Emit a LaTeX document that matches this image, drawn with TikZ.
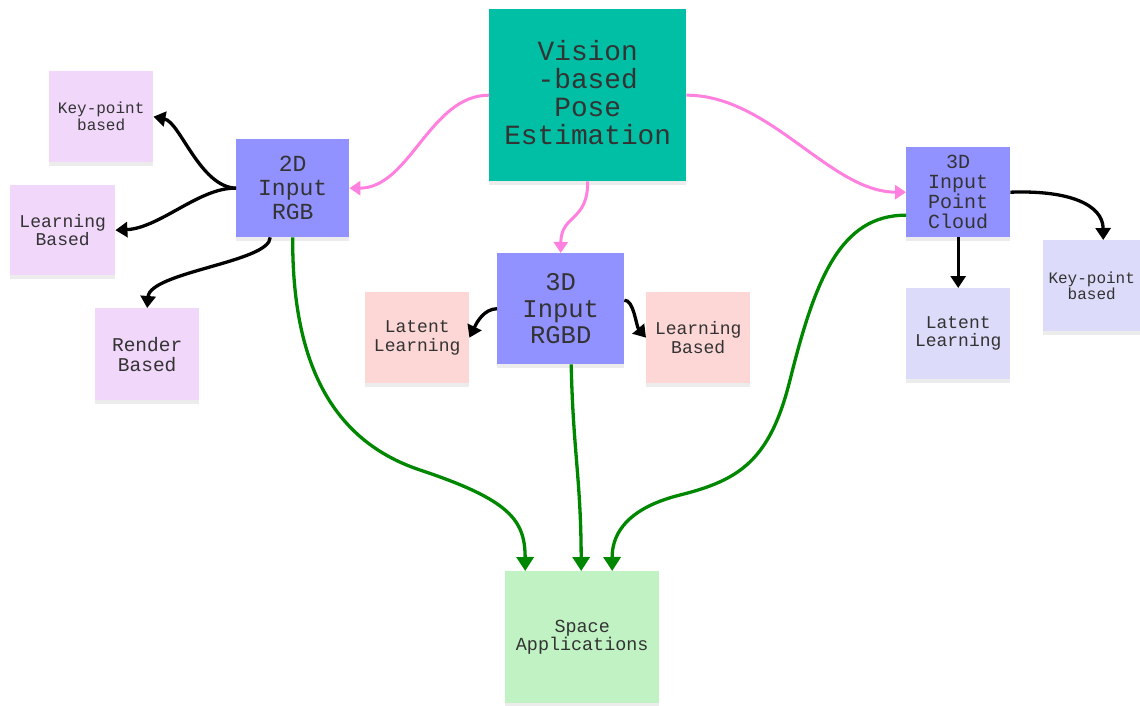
\documentclass[tikz,border=0pt]{standalone}
\usepackage{fontspec}
\setmainfont{Liberation Mono}
\usetikzlibrary{arrows.meta,shadows}
\definecolor{teal1}{RGB}{0,191,165}
\definecolor{blue1}{RGB}{145,145,255}
\definecolor{lilac}{RGB}{241,215,250}
\definecolor{pinkbox}{RGB}{253,214,214}
\definecolor{lav}{RGB}{220,220,250}
\definecolor{greenbox}{RGB}{192,242,196}
\definecolor{pinkline}{RGB}{255,128,222}
\definecolor{greenline}{RGB}{0,135,0}
\definecolor{txt}{RGB}{51,51,51}
\begin{document}
\begin{tikzpicture}[x=1pt,y=-1pt,
  box/.style={anchor=north west, inner sep=0pt, align=center, text=txt,
    drop shadow={shadow xshift=0pt, shadow yshift=-4pt, opacity=0.15}},
  fs/.style 2 args={font=\fontsize{#1}{#2}\selectfont},
  pinkarr/.style={pinkline, line width=3pt, -{Triangle[length=11pt,width=14pt]}},
  blackarr/.style={black, line width=3.3pt, -{Triangle[length=12pt,width=15pt]}},
  greenarr/.style={greenline, line width=3.3pt, -{Triangle[length=14pt,width=17pt]}}]
\useasboundingbox (0,0) rectangle (1140,706);
% nodes
\node[box, fill=teal1, minimum width=197pt, minimum height=172pt, fs={27.8}{28}, text depth=6pt] (V) at (489,9) {Vision\\-based\\Pose\\Estimation};
\node[box, fill=blue1, minimum width=113pt, minimum height=98pt, fs={23}{24}] (R2) at (236,139) {2D\\Input\\RGB};
\node[box, fill=lilac, minimum width=104pt, minimum height=91pt, fs={16}{17}] (K1) at (49,71) {Key-point\\based};
\node[box, fill=lilac, minimum width=105pt, minimum height=90pt, fs={18}{18}] (L1) at (10,185) {Learning\\Based};
\node[box, fill=lilac, minimum width=104pt, minimum height=92pt, fs={19.5}{20}] (RB) at (95,308) {Render\\Based};
\node[box, fill=blue1, minimum width=127pt, minimum height=111pt, fs={25.5}{26.5}] (RGBD) at (497,253) {3D\\Input\\RGBD};
\node[box, fill=pinkbox, minimum width=104pt, minimum height=91pt, fs={18}{19}] (LP) at (365,292) {Latent\\Learning};
\node[box, fill=pinkbox, minimum width=104pt, minimum height=91pt, fs={18}{19}] (BP) at (646,292) {Learning\\Based};
\node[box, fill=blue1, minimum width=104pt, minimum height=90pt, fs={20}{20}] (PC) at (906,147) {3D\\Input\\Point\\Cloud};
\node[box, fill=lav, minimum width=97pt, minimum height=91pt, fs={16}{16}] (KR) at (1043,240) {Key-point\\based};
\node[box, fill=lav, minimum width=104pt, minimum height=91pt, fs={18}{18}] (LR) at (906,288) {Latent\\Learning};
\node[box, fill=greenbox, minimum width=154pt, minimum height=132pt, fs={18.4}{18}] (SA) at (505,571) {Space\\Applications};
% pink connectors
\draw[pinkarr] (V.west) .. controls (430,95) and (410,188) .. (R2.east);
\draw[pinkarr] (V.south) .. controls (588,222) and (561,214) .. (RGBD.north);
\draw[pinkarr] (V.east) .. controls (770,95) and (830,192) .. (PC.west);
% black connectors
\draw[blackarr] (R2.west) .. controls (200,187) and (180,122) .. (K1.east);
\draw[blackarr] (R2.west) .. controls (200,187) and (160,228) .. (L1.east);
\draw[blackarr] ([xshift=-22.5pt]R2.south) .. controls (270,262) and (150,272) .. (RB.north);
\draw[blackarr] (RGBD.west) .. controls (484,309) and (477,322) .. (LP.east);
\draw[blackarr] ([yshift=8.5pt]RGBD.east) .. controls (634,300) and (636,326) .. (BP.west);
\draw[blackarr] (PC.east) .. controls (1070,190) and (1103,205) .. ([xshift=11.5pt]KR.north);
\draw[blackarr] (PC.south) -- (LR.north);
% green connectors
\draw[greenarr] (R2.south) .. controls (292,360) and (330,440) .. (420,470)
   .. controls (510,500) and (525,520) .. ([xshift=-57pt]SA.north);
\draw[greenarr] ([xshift=10.5pt]RGBD.south) .. controls (573,450) and (581,480) .. ([xshift=-1pt]SA.north);
\draw[greenarr] ([yshift=-23pt]PC.west) .. controls (840,215) and (815,280) .. (790,380)
   .. controls (770,460) and (740,480) .. (680,495)
   .. controls (620,510) and (612,540) .. ([xshift=30pt]SA.north);
\end{tikzpicture}
\end{document}
